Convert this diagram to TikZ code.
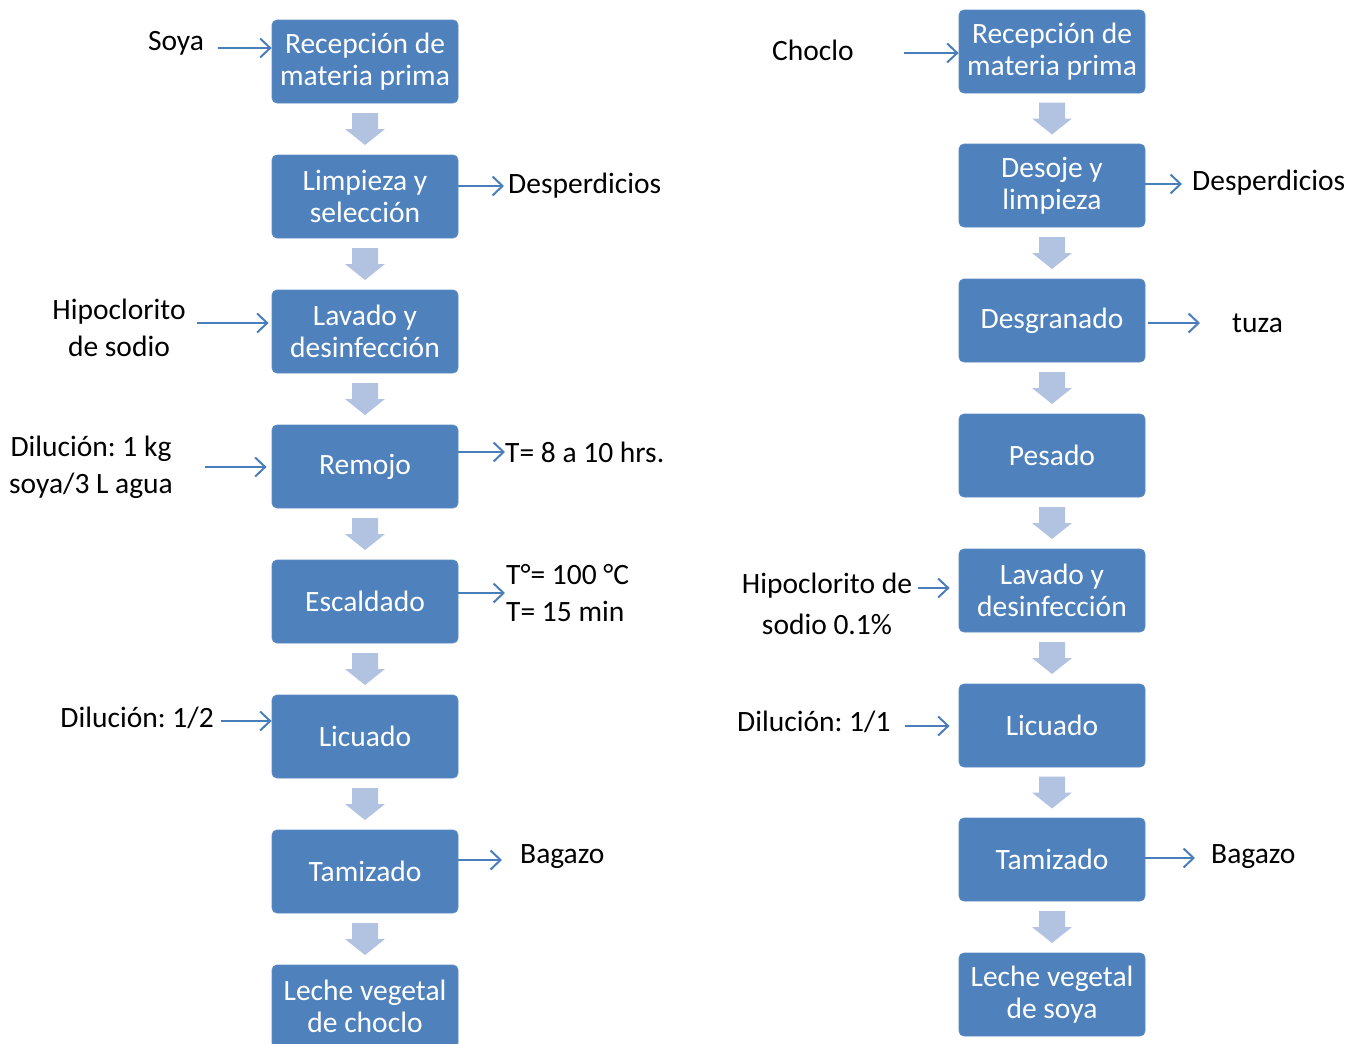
\documentclass[tikz,border=0pt]{standalone}
\usepackage{fontspec}
\setmainfont{Carlito}
\usetikzlibrary{arrows.meta,calc}
\definecolor{boxblue}{HTML}{4F81BD}
\definecolor{boxedge}{HTML}{5B8CC6}
\definecolor{barrow}{HTML}{B2C3E2}
\definecolor{larrow}{HTML}{4A7EBB}
\frenchspacing
\tikzset{
  procbox/.style={rectangle, rounded corners=5pt, fill=boxblue, draw=boxedge, line width=0.8pt,
    minimum width=186pt, minimum height=83pt, text=white, align=center,
    font=\fontsize{29.5}{32}\selectfont, inner sep=2pt},
  lbl/.style={inner sep=0pt, text=black, font=\fontsize{29.5}{37}\selectfont},
  larr/.style={draw=larrow, line width=2pt, -{Straight Barb[length=10pt,width=19pt,line width=2pt]}},
}
\newcommand{\blockarr}[2]{%
  \path let \p1=($(#1.south)!0.5!(#2.north)$) in
    [fill=barrow] (\x1-13,\y1+16) -- (\x1+13,\y1+16) -- (\x1+13,\y1) -- (\x1+20,\y1)
    -- (\x1,\y1-16) -- (\x1-20,\y1) -- (\x1-13,\y1) -- cycle;}
\begin{document}
\begin{tikzpicture}[x=1pt,y=-1pt]
\useasboundingbox (0,0) rectangle (1361,1044);
% left column
\node[procbox] (L1) at (365,61.5) {Recepción de\\materia prima};
\node[procbox] (L2) at (365,196.5) {Limpieza y\\selección};
\node[procbox] (L3) at (365,331.5) {Lavado y\\desinfección};
\node[procbox] (L4) at (365,466.5) {Remojo};
\node[procbox] (L5) at (365,601.5) {Escaldado};
\node[procbox] (L6) at (365,736.5) {Licuado};
\node[procbox] (L7) at (365,871.5) {Tamizado};
\node[procbox] (L8) at (365,1006.5) {Leche vegetal\\de choclo};
% right column
\node[procbox] (R1) at (1052,51.5) {Recepción de\\materia prima};
\node[procbox] (R2) at (1052,185.5) {Desoje y\\limpieza};
\node[procbox] (R3) at (1052,320.5) {Desgranado};
\node[procbox] (R4) at (1052,455.5) {Pesado};
\node[procbox] (R5) at (1052,590.5) {Lavado y\\desinfección};
\node[procbox] (R6) at (1052,725.5) {Licuado};
\node[procbox] (R7) at (1052,859.5) {Tamizado};
\node[procbox] (R8) at (1052,994.5) {Leche vegetal\\de soya};
% block arrows
\foreach \a/\b in {L1/L2,L2/L3,L3/L4,L4/L5,L5/L6,L6/L7,L7/L8,R1/R2,R2/R3,R3/R4,R4/R5,R5/R6,R6/R7,R7/R8}{\blockarr{\a}{\b}}
% left labels
\node[lbl] (soya) at (176,43) {Soya};
\coordinate (soyaA) at (218,48);
\draw[larr] (soyaA) -- (soyaA -| L1.west);
\node[lbl,anchor=west] (desp1) at (508,186) {Desperdicios};
\draw[larr] (L2.east |- desp1.west) -- ([xshift=-4pt]desp1.west);
\node[lbl,align=center] (hip1) at (119,328) {Hipoclorito\\de sodio};
\coordinate (hipA) at (197,323);
\draw[larr] (hipA) -- ([xshift=-3pt]hipA -| L3.west);
\node[lbl,align=center] (dil1) at (91,467) {Dilución: 1 kg\\soya/3 L agua};
\coordinate (dilA) at (205,467);
\draw[larr] (dilA) -- ([xshift=-5pt]dilA -| L4.west);
\node[lbl,anchor=west] (t1) at (505,452) {T= 8 a 10 hrs.};
\draw[larr] (L4.east |- t1.west) -- (t1.west);
\node[lbl,anchor=west,align=left] (t2) at (506,593) {T°= 100 °C\\T= 15 min};
\draw[larr] (L5.east |- t2.west) -- ([xshift=-1pt]t2.west);
\node[lbl,anchor=east] (dil2) at (214,718) {Dilución: 1/2};
\coordinate (dil2A) at (221,721);
\draw[larr] (dil2A) -- (dil2A -| L6.west);
\node[lbl,anchor=west] (bag1) at (520,857) {Bagazo};
\coordinate (bag1A) at (502,860);
\draw[larr] (bag1A -| L7.east) -- (bag1A);
% right labels
\node[lbl] (choclo) at (813,50) {Choclo};
\coordinate (chA) at (904,53);
\draw[larr] (chA) -- (chA -| R1.west);
\node[lbl,anchor=west] (desp2) at (1192,183) {Desperdicios};
\coordinate (desp2A) at (1182,184);
\draw[larr] (desp2A -| R2.east) -- (desp2A);
\node[lbl,anchor=west] (tuza) at (1232,323) {tuza};
\coordinate (tuzaA) at (1200,323);
\draw[larr] ([xshift=3pt]tuzaA -| R3.east) -- (tuzaA);
\node[lbl,align=center,font=\fontsize{29.5}{41}\selectfont] (hip2) at (827,604) {Hipoclorito de\\sodio 0.1\%};
\coordinate (hip2A) at (918,588);
\draw[larr] (hip2A) -- ([xshift=-9pt]hip2A -| R5.west);
\node[lbl,anchor=west] (dil3) at (737,722) {Dilución: 1/1};
\coordinate (dil3A) at (905,726);
\draw[larr] (dil3A) -- ([xshift=-9pt]dil3A -| R6.west);
\node[lbl,anchor=west] (bag2) at (1211,857) {Bagazo};
\coordinate (bag2A) at (1195,858);
\draw[larr] (bag2A -| R7.east) -- (bag2A);
\end{tikzpicture}
\end{document}
